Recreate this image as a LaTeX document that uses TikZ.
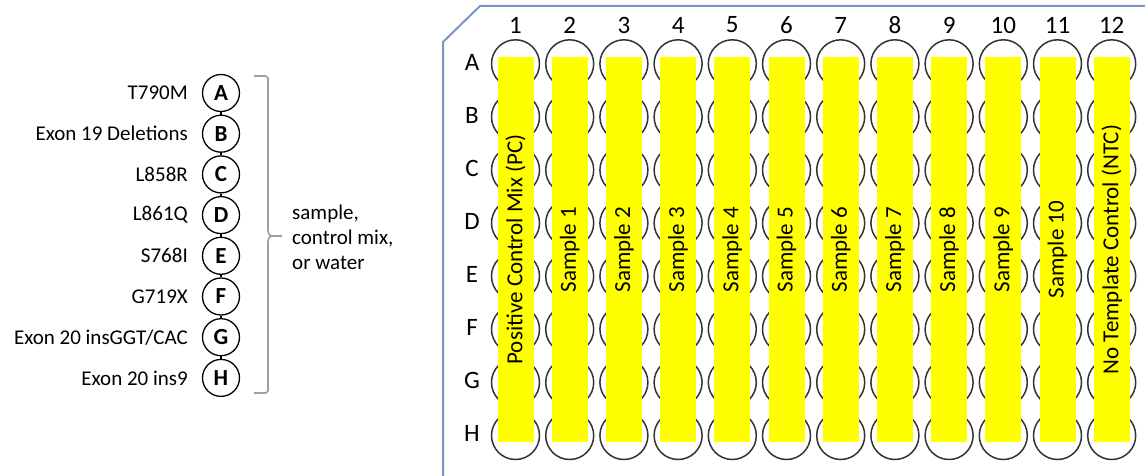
\documentclass[tikz,border=0pt]{standalone}
\usepackage{fontspec}
\setmainfont{Carlito}
\definecolor{platec}{HTML}{7A96C2}
\definecolor{wellc}{HTML}{333333}
\definecolor{brk}{HTML}{A0A0A0}
\definecolor{stripc}{HTML}{FFFF00}
\begin{document}
\begin{tikzpicture}[x=1pt,y=-1pt,
  well/.style={circle, draw=wellc, line width=1.5pt, minimum size=48pt, inner sep=0pt},
  strip/.style={fill=stripc, rotate=90, minimum width=385pt, minimum height=36pt, inner sep=0pt, font=\fontsize{23}{27}\selectfont},
  colnum/.style={font=\fontsize{25}{28}\selectfont, inner sep=0pt},
  rowlab/.style={font=\fontsize{25}{28}\selectfont, inner sep=0pt},
  legc/.style={circle, draw=black, line width=1.3pt, minimum size=37pt, inner sep=0pt, font=\fontsize{23}{24}\selectfont\bfseries},
  leglab/.style={anchor=east, font=\fontsize{21}{24}\selectfont, inner sep=0pt},
  note/.style={anchor=west, align=left, font=\fontsize{21}{25}\selectfont, inner sep=0pt}
]
\useasboundingbox (0,0) rectangle (1145,476);
% plate outline
\draw[platec, line width=2pt] (443,478) -- (443,42) -- (480,6) -- (1147,6);
% wells
\foreach \r [count=\i from 0] in {A,B,C,D,E,F,G,H}{
  \node[rowlab] (row-\r) at (472,62+53.1*\i) {\r};
  \foreach \c in {1,...,12}{
    \node[well] (w-\r-\c) at (515.5+54.2*\c-54.2, 63.8+53.1*\i) {};
  }
}
% strips and column numbers
\foreach \c/\t in {1/Positive Control Mix (PC),2/Sample 1,3/Sample 2,4/Sample 3,5/Sample 4,6/Sample 5,7/Sample 6,8/Sample 7,9/Sample 8,10/Sample 9,11/Sample 10,12/No Template Control (NTC)}{
  \node[colnum] (col-\c) at (515.5+54.2*\c-54.2, 25) {\c};
  \node[strip] (s-\c) at (515.5+54.2*\c-54.2, 249.5) {\t};
}
% legend
\foreach \l/\t [count=\i from 0] in {A/{T790M},B/{Exon 19 Deletions},C/{L858R},D/{L861Q},E/{S768I},F/{G719X},G/{Exon 20 insGGT/CAC},H/{Exon 20 ins9}}{
  \node[legc] (L-\l) at (221,93+40.7*\i) {\l};
  \node[leglab] (T-\l) at (188,93+40.7*\i) {\t};
}
\foreach \a/\b in {A/B,B/C,C/D,D/E,E/F,F/G,G/H}{
  \draw[line width=1.3pt] (L-\a.south) -- (L-\b.north);
}
% bracket
\coordinate (btop) at (254,76);
\coordinate (bbot) at (254,393);
\coordinate (btip) at (282,236);
\draw[brk, line width=1.6pt, line join=round] (btop) -- (266,76) -- (268,78) -- (268,230)
  .. controls (268,235) and (270,236) .. (275,236) -- (btip);
\draw[brk, line width=1.6pt, line join=round] (275,236) .. controls (270,236) and (268,237) .. (268,242)
  -- (268,391) -- (266,393) -- (bbot);
\node[note] (note) at (292,237) {sample,\\control mix,\\or water};
\end{tikzpicture}
\end{document}
